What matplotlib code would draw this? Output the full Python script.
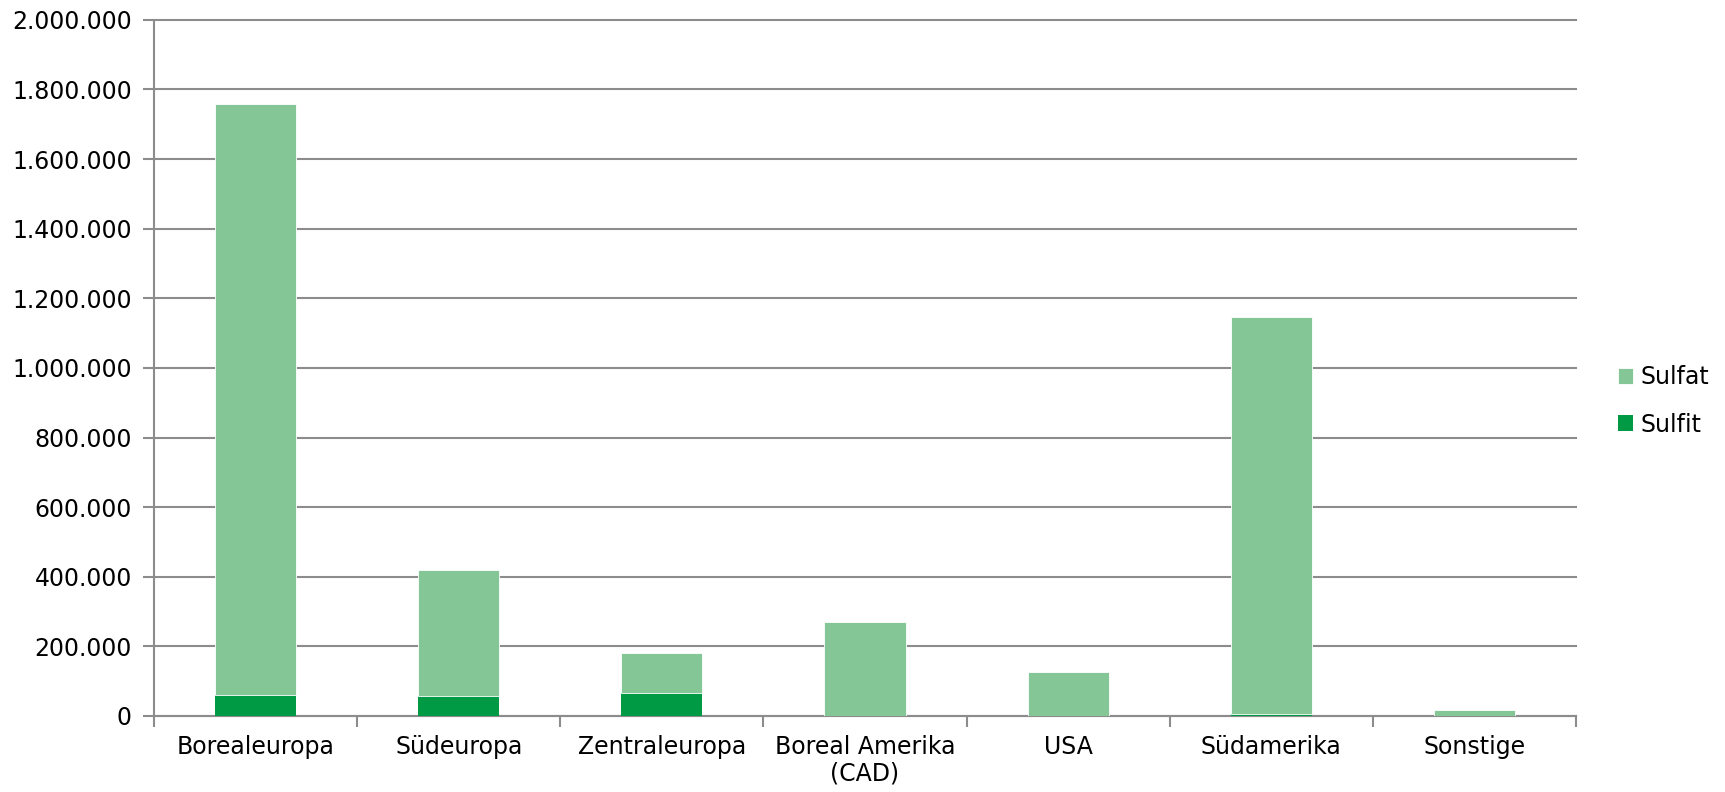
import numpy as np
import matplotlib
matplotlib.use("Agg")
import matplotlib.pyplot as plt
from matplotlib.ticker import FuncFormatter

# categories and values (tonnes)
regions = ["Borealeuropa", "Südeuropa", "Zentraleuropa", "Boreal Amerika\n(CAD)",
           "USA", "Südamerika", "Sonstige"]
sulfit = [60000, 56000, 65000, 0, 0, 6000, 0]
sulfat = [1697000, 364000, 117000, 270000, 127000, 1139000, 18000]

col_sulfat = "#85c696"
col_sulfit = "#009a44"
grey = "#8c8c8c"

plt.rcParams["font.family"] = ["DejaVu Sans"]

fig = plt.figure(figsize=(17.25, 7.92), dpi=100)
ax = fig.add_axes([0.0893, 0.096, 0.8243, 0.879])

x = np.arange(len(regions))
ax.bar(x, sulfit, width=0.4, color=col_sulfit, label="Sulfit", zorder=3)
ax.bar(x, sulfat, width=0.4, bottom=sulfit, color=col_sulfat, label="Sulfat",
       edgecolor="white", linewidth=0.6, zorder=3)

ax.set_xlim(-0.5, len(regions) - 0.5)
ax.set_ylim(0, 2000000)
ax.set_yticks(np.arange(0, 2000001, 200000))
ax.yaxis.set_major_formatter(FuncFormatter(lambda v, p: f"{int(v):,}".replace(",", ".")))
ax.grid(axis="y", color=grey, linewidth=1.5, zorder=0)
for gl in ax.get_ygridlines():
    gl.set_clip_on(False)

# labels at category centres, tick marks at the boundaries
ax.set_xticks(x)
ax.set_xticklabels(regions, fontsize=17, linespacing=1.1)
ax.tick_params(axis="x", which="major", length=0, pad=14)
ax.set_xticks(np.arange(-0.5, len(regions)), minor=True)
ax.tick_params(axis="x", which="minor", length=8, width=1.5, color=grey)
ax.tick_params(axis="y", length=8, width=1.5, color=grey, labelsize=17, pad=8)

for s in ["top", "right"]:
    ax.spines[s].set_visible(False)
for s in ["left", "bottom"]:
    ax.spines[s].set_color(grey)
    ax.spines[s].set_linewidth(1.5)

h, l = ax.get_legend_handles_labels()
fig.legend(h[::-1], l[::-1], loc="center left", bbox_to_anchor=(0.938, 0.494),
           frameon=False, fontsize=17, handlelength=0.65, handleheight=0.65,
           handletextpad=0.3, labelspacing=1.0, borderaxespad=0, borderpad=0)

fig.savefig("out.png", dpi=100)
